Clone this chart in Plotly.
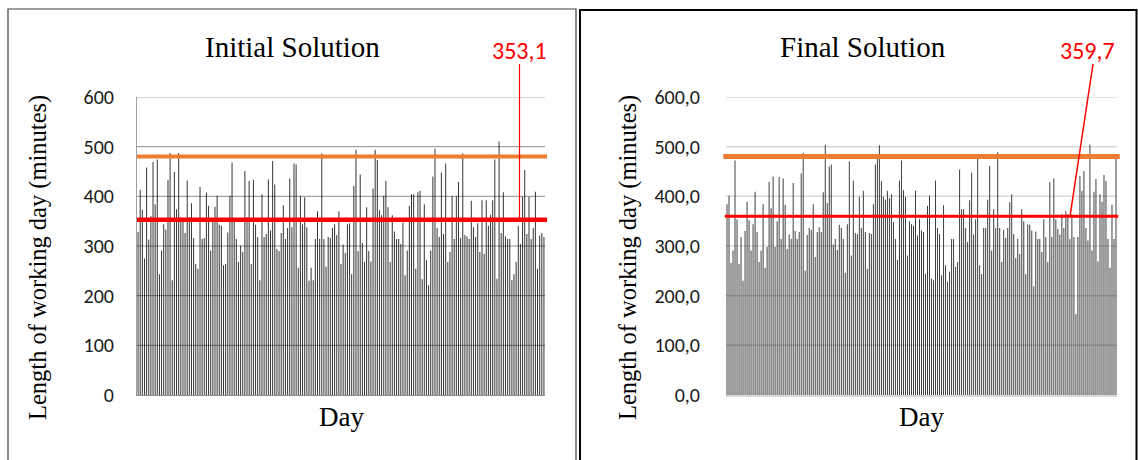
import plotly.graph_objects as go

# ---------------- data ----------------
initial_days = [
    328, 413, 373, 275, 458, 313, 360, 469, 384, 474, 243, 291, 344, 333, 433, 487, 231, 449, 374, 487,
    358, 351, 326, 432, 358, 386, 316, 264, 254, 419, 314, 316, 407, 381, 291, 352, 379, 401, 343, 341,
    261, 264, 327, 401, 468, 351, 314, 268, 301, 288, 451, 358, 431, 264, 433, 343, 318, 231, 404, 318,
    324, 434, 331, 471,
    424, 294, 290, 326, 382, 314, 336, 436, 338, 466, 464, 256, 401, 344, 398, 338, 230, 256, 231, 314,
    370, 314, 486, 314, 258, 318, 316, 336, 344, 322, 370, 264, 303, 286, 344, 346, 243, 421, 494, 290,
    444, 306, 268, 378, 290, 269, 416, 494, 473, 372, 362, 401, 431, 378, 268, 362, 329, 314, 314, 304,
    347, 241, 291, 381, 404,
    404, 254, 408, 411, 233, 384, 272, 221, 291, 440, 496, 336, 318, 448, 324, 466, 268, 288, 400, 314,
    400, 429, 316, 486, 322, 319, 314, 391, 338, 318, 346, 288, 392, 284, 392, 341, 363, 392, 474, 234,
    511, 326, 408, 319, 314, 314, 231, 243, 268, 341, 304, 399, 453, 324, 399, 314, 336, 409, 254, 321,
    326, 318,
]
final_days = [
    384, 401, 266, 291, 472, 354, 264, 318, 230, 330, 389, 352, 291, 344, 409, 328, 268, 291, 384, 256,
    298, 429, 376, 440, 298, 350, 439, 314, 436, 383, 294, 323, 314, 427, 330, 314, 328, 446, 488, 250,
    322, 336, 332, 384, 278, 328, 338, 328, 408, 504, 386, 460, 464, 303, 314, 292, 343, 336, 314, 246,
    344, 470, 281, 432, 326,
    324, 399, 336, 411, 328, 254, 326, 324, 384, 464, 484, 503, 431, 399, 393, 411, 396, 404, 348, 314,
    272, 432, 472, 412, 399, 281, 350, 344, 341, 411, 321, 354, 331, 328, 244, 381, 401, 234, 231, 432,
    336, 324, 241, 382, 261, 228, 248, 314, 314, 258, 268, 454, 374, 374, 336, 308, 392, 448, 323, 354,
    484, 261, 243, 336,
    336, 393, 461, 291, 374, 336, 489, 336, 268, 332, 316, 336, 388, 404, 324, 276, 314, 284, 374, 350,
    243, 344, 343, 331, 219, 329, 314, 314, 288, 354, 318, 268, 429, 318, 436, 354, 334, 323, 364, 336,
    370, 364, 314, 364, 318, 163, 318, 441, 411, 451, 336, 311, 504, 291, 409, 435, 269, 404, 389, 443,
    431, 314, 256, 383, 314, 479,
]
limit_minutes = 480
initial_avg = 353.1
final_avg = 359.7
initial_avg_label = "353,1"
final_avg_label = "359,7"
titles = ["Initial Solution", "Final Solution"]
y_title = "Length of working day (minutes)"
x_title = "Day"
tick_vals = [0, 100, 200, 300, 400, 500, 600]
left_tick_text = ["0", "100", "200", "300", "400", "500", "600"]
right_tick_text = ["0,0", "100,0", "200,0", "300,0", "400,0", "500,0", "600,0"]

# ---------------- layout geometry ----------------
W, H = 1138, 460
def px(x):
    return x / W
def py(y):
    return 1 - y / H

serif = "Liberation Serif, Times New Roman, serif"
sans = "Carlito, Lato, Open Sans, sans-serif"
bar_color = "rgba(55,55,55,0.99)"  # alpha < 1 keeps the thin bars at their true sub-pixel width

fig = go.Figure()
fig.add_trace(go.Bar(x=list(range(1, len(initial_days) + 1)), y=initial_days,
                     marker=dict(color=bar_color, line=dict(width=0)),
                     xaxis="x", yaxis="y", showlegend=False, hoverinfo="y"))
fig.add_trace(go.Bar(x=list(range(1, len(final_days) + 1)), y=final_days,
                     marker=dict(color=bar_color, line=dict(width=0)),
                     xaxis="x2", yaxis="y2", showlegend=False, hoverinfo="y"))

ydom = [py(395), py(97)]
common_x = dict(showticklabels=False, ticks="", showgrid=False, zeroline=False, fixedrange=True)
fig.update_layout(
    width=W, height=H, autosize=False,
    margin=dict(l=0, r=0, t=0, b=0),
    paper_bgcolor="white", plot_bgcolor="white",
    bargap=0.52,
    xaxis=dict(domain=[px(137), px(545)], range=[0.5, len(initial_days) + 0.5],
               showline=True, linecolor="#8c8c8c", linewidth=1, anchor="y", **common_x),
    xaxis2=dict(domain=[px(726), px(1117)], range=[0.5, len(final_days) + 0.5],
                showline=True, linecolor="#d9d9d9", linewidth=1.5, anchor="y2", **common_x),
    yaxis=dict(domain=ydom, range=[0, 600], tickvals=tick_vals, ticktext=left_tick_text,
               showgrid=False, zeroline=False,
               showline=True, linecolor="#a0a0a0", linewidth=1, automargin=False,
               ticks="outside", ticklen=18, tickcolor="rgba(0,0,0,0)",
               tickfont=dict(family=sans, size=20, color="#1a1a1a"), anchor="x"),
    yaxis2=dict(domain=ydom, range=[0, 600], tickvals=tick_vals, ticktext=right_tick_text,
                showgrid=False, zeroline=False,
                showline=False, automargin=False,
                ticks="outside", ticklen=21, tickcolor="rgba(0,0,0,0)",
                tickfont=dict(family=sans, size=20, color="#1a1a1a"), anchor="x2"),
)

shapes = []
# panel frames
shapes.append(dict(type="rect", xref="paper", yref="paper", x0=px(8), x1=px(576), y0=py(470), y1=py(9),
                   line=dict(color="#404040", width=1.2), fillcolor="rgba(0,0,0,0)", layer="below"))
shapes.append(dict(type="rect", xref="paper", yref="paper", x0=px(580), x1=px(1136.5), y0=py(470), y1=py(10),
                   line=dict(color="#000000", width=2), fillcolor="rgba(0,0,0,0)", layer="below"))
# gridlines drawn over the thin bars (as in the source chart)
for v in tick_vals[1:]:
    shapes.append(dict(type="line", xref="x domain", yref="y", x0=0, x1=1, y0=v, y1=v,
                       line=dict(color="rgba(0,0,0,0.45)" if v < 600 else "rgba(0,0,0,0.33)", width=1)))
    shapes.append(dict(type="line", xref="x2 domain", yref="y2", x0=0, x1=1, y0=v, y1=v,
                       line=dict(color="rgba(0,0,0,0.15)", width=1.5)))
# limit lines
shapes.append(dict(type="line", xref="x domain", yref="y", x0=0, x1=1.005, y0=limit_minutes, y1=limit_minutes,
                   line=dict(color="#ED7D31", width=4)))
shapes.append(dict(type="line", xref="x2 domain", yref="y2", x0=-0.007, x1=1.007, y0=limit_minutes, y1=limit_minutes,
                   line=dict(color="#ED7D31", width=5)))
# average lines
shapes.append(dict(type="line", xref="x domain", yref="y", x0=0, x1=1.005, y0=initial_avg, y1=initial_avg,
                   line=dict(color="#FF0000", width=4.5)))
shapes.append(dict(type="line", xref="x2 domain", yref="y2", x0=-0.003, x1=1.003, y0=final_avg, y1=final_avg,
                   line=dict(color="#FF0000", width=3)))
# leader lines for average labels
shapes.append(dict(type="line", xref="paper", yref="paper", x0=px(519.5), x1=px(519.5),
                   y0=py(64), y1=py(395 - initial_avg * 298 / 600),
                   line=dict(color="#FF0000", width=1.2)))
shapes.append(dict(type="line", xref="paper", yref="paper", x0=px(1093), x1=px(1070),
                   y0=py(64), y1=py(395 - final_avg * 298 / 600),
                   line=dict(color="#FF0000", width=1.5)))
fig.update_layout(shapes=shapes)

annos = []
annos.append(dict(text=titles[0], x=px(293), y=py(47), xref="paper", yref="paper", showarrow=False,
                  font=dict(family=serif, size=29, color="black"), xanchor="center", yanchor="middle"))
annos.append(dict(text=titles[1], x=px(863), y=py(47), xref="paper", yref="paper", showarrow=False,
                  font=dict(family=serif, size=29, color="black"), xanchor="center", yanchor="middle"))
annos.append(dict(text=initial_avg_label, x=px(519), y=py(50), xref="paper", yref="paper", showarrow=False,
                  font=dict(family=sans, size=24, color="#FF0000"), xanchor="center", yanchor="middle"))
annos.append(dict(text=final_avg_label, x=px(1087), y=py(50), xref="paper", yref="paper", showarrow=False,
                  font=dict(family=sans, size=24, color="#FF0000"), xanchor="center", yanchor="middle"))
for cx in (38, 628):
    annos.append(dict(text=y_title, x=px(cx), y=py(258), xref="paper", yref="paper", showarrow=False,
                      textangle=-90, font=dict(family=serif, size=24.5, color="black"),
                      xanchor="center", yanchor="middle"))
for cx in (341, 921):
    annos.append(dict(text=x_title, x=px(cx), y=py(417), xref="paper", yref="paper", showarrow=False,
                      font=dict(family=serif, size=27, color="black"), xanchor="center", yanchor="middle"))
fig.update_layout(annotations=annos)

fig.write_html(
    "out.html",
    config={"displayModeBar": False},
    post_script=(
        "document.documentElement.style.margin='0';"
        "document.body.style.margin='0';"
        "document.body.style.overflow='hidden';"
        "var d=document.getElementById('{plot_id}');"
        "d.style.position='fixed';d.style.top='0px';d.style.left='0px';"
    ),
)
